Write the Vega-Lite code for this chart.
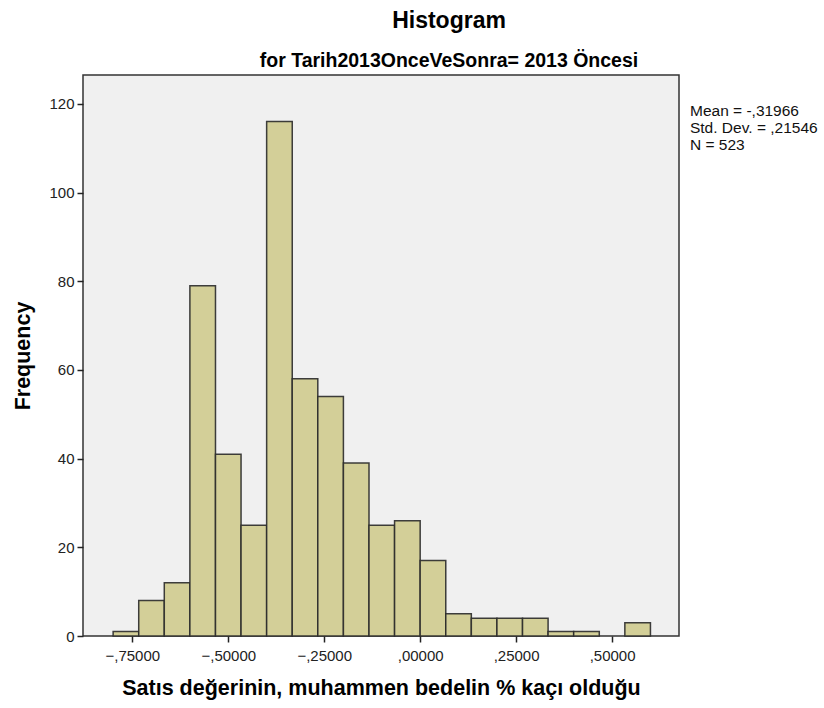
{
  "$schema": "https://vega.github.io/schema/vega-lite/v6.json",
  "autosize": "none",
  "width": 596,
  "height": 561,
  "padding": {"left": 83, "top": 75, "right": 145, "bottom": 72},
  "background": "#ffffff",
  "config": {
    "font": "Liberation Sans",
    "view": {"fill": "#f0f0f0", "stroke": "#333333", "strokeWidth": 1.5},
    "axis": {
      "grid": false,
      "domain": false,
      "tickColor": "#222222",
      "tickSize": 6,
      "tickWidth": 1.5,
      "labelFont": "Liberation Sans",
      "labelFontSize": 15,
      "labelColor": "#222222",
      "titleFont": "Liberation Sans",
      "titleFontSize": 21.5,
      "titleFontWeight": "bold",
      "titleColor": "#000000"
    }
  },
  "title": {
    "text": "Histogram",
    "subtitle": "for Tarih2013OnceVeSonra= 2013 Öncesi",
    "font": "Liberation Sans",
    "fontSize": 23,
    "fontWeight": "bold",
    "color": "#000000",
    "subtitleFont": "Liberation Sans",
    "subtitleFontSize": 19.5,
    "subtitleFontWeight": "bold",
    "subtitleColor": "#000000",
    "subtitlePadding": 19,
    "anchor": "middle",
    "dx": 68,
    "offset": 5
  },
  "layer": [
    {
      "data": {
        "values": [
          {"bin_start": -0.8, "bin_end": -0.7333, "count": 1},
          {"bin_start": -0.7333, "bin_end": -0.6667, "count": 8},
          {"bin_start": -0.6667, "bin_end": -0.6, "count": 12},
          {"bin_start": -0.6, "bin_end": -0.5333, "count": 79},
          {"bin_start": -0.5333, "bin_end": -0.4667, "count": 41},
          {"bin_start": -0.4667, "bin_end": -0.4, "count": 25},
          {"bin_start": -0.4, "bin_end": -0.3333, "count": 116},
          {"bin_start": -0.3333, "bin_end": -0.2667, "count": 58},
          {"bin_start": -0.2667, "bin_end": -0.2, "count": 54},
          {"bin_start": -0.2, "bin_end": -0.1333, "count": 39},
          {"bin_start": -0.1333, "bin_end": -0.0667, "count": 25},
          {"bin_start": -0.0667, "bin_end": 0, "count": 26},
          {"bin_start": 0, "bin_end": 0.0667, "count": 17},
          {"bin_start": 0.0667, "bin_end": 0.1333, "count": 5},
          {"bin_start": 0.1333, "bin_end": 0.2, "count": 4},
          {"bin_start": 0.2, "bin_end": 0.2667, "count": 4},
          {"bin_start": 0.2667, "bin_end": 0.3333, "count": 4},
          {"bin_start": 0.3333, "bin_end": 0.4, "count": 1},
          {"bin_start": 0.4, "bin_end": 0.4667, "count": 1},
          {"bin_start": 0.5333, "bin_end": 0.6, "count": 3}
        ]
      },
      "mark": {"type": "bar", "fill": "#d3cf98", "stroke": "#2a2a2a", "strokeWidth": 1.5, "strokeOpacity": 0.9},
      "encoding": {
        "x": {
          "field": "bin_start",
          "type": "quantitative",
          "scale": {"domain": [-0.8785, 0.6744], "nice": false, "zero": false},
          "axis": {
            "values": [-0.75, -0.5, -0.25, 0, 0.25, 0.5],
            "labelExpr": "replace(format(datum.value, '.5f'), '0.', ',')",
            "title": "Satıs değerinin, muhammen bedelin % kaçı olduğu",
            "titlePadding": 14,
            "labelPadding": 6
          }
        },
        "x2": {"field": "bin_end"},
        "y": {
          "field": "count",
          "type": "quantitative",
          "scale": {"domain": [0, 126.5], "nice": false},
          "axis": {
            "values": [0, 20, 40, 60, 80, 100, 120],
            "title": "Frequency",
            "titlePadding": 14,
            "labelPadding": 3
          }
        },
        "y2": {"datum": 0}
      }
    },
    {
      "data": {"values": [{"px": 0.703, "py": 120, "label": "Mean = -,31966\nStd. Dev. = ,21546\nN = 523"}]},
      "mark": {"type": "text", "align": "left", "baseline": "top", "font": "Liberation Sans", "fontSize": 15.5, "lineHeight": 17, "lineBreak": "\n", "color": "#111111", "clip": false},
      "encoding": {
        "x": {"field": "px", "type": "quantitative"},
        "y": {"field": "py", "type": "quantitative"},
        "text": {"field": "label"}
      }
    }
  ]
}
